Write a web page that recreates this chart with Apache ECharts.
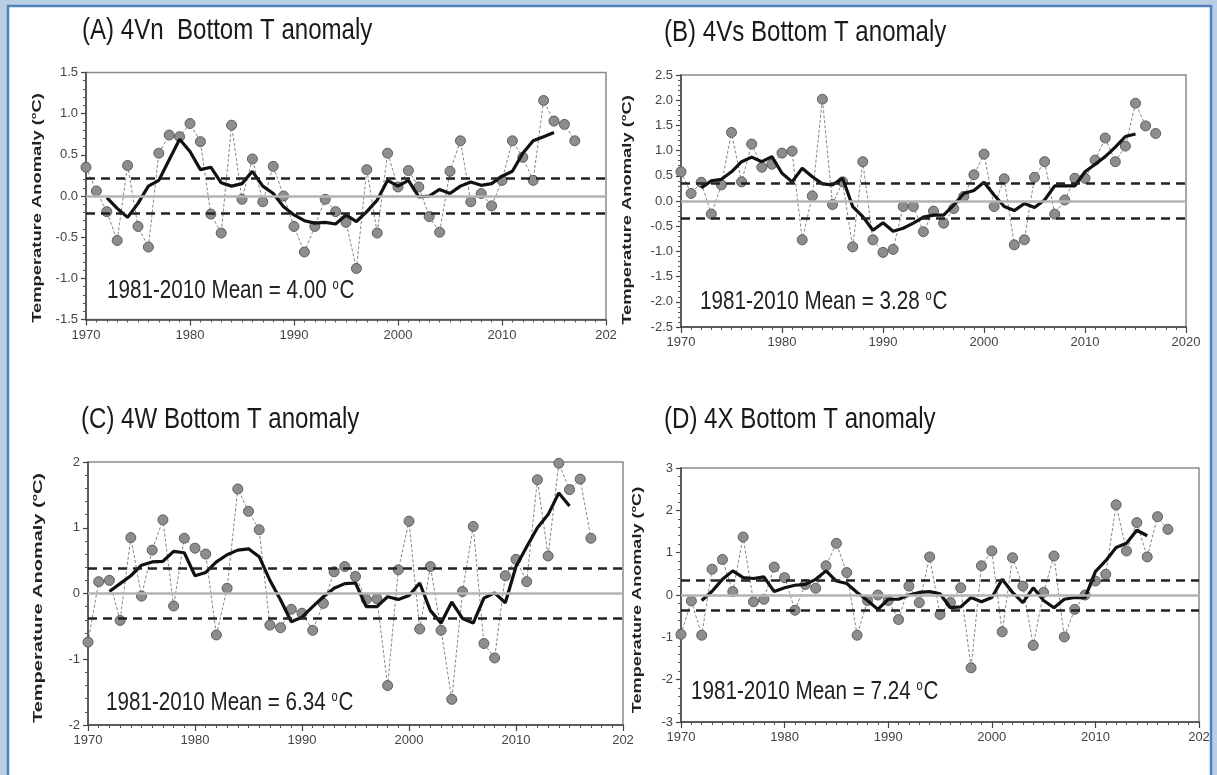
<!DOCTYPE html>
<html>
<head>
<meta charset="utf-8">
<script src="https://cdn.jsdelivr.net/npm/echarts@6/dist/echarts.min.js"></script>
<style>
html,body{margin:0;padding:0;background:#b9cde5;}
#chart{width:1217px;height:775px;}
</style>
</head>
<body>
<div id="chart"></div>
<script>
// ---- data ----
const years = [1970,1971,1972,1973,1974,1975,1976,1977,1978,1979,
  1980,1981,1982,1983,1984,1985,1986,1987,1988,1989,
  1990,1991,1992,1993,1994,1995,1996,1997,1998,1999,
  2000,2001,2002,2003,2004,2005,2006,2007,2008,2009,
  2010,2011,2012,2013,2014,2015,2016,2017];
const meanYears = [1972,1973,1974,1975,1976,1977,1978,1979,
  1980,1981,1982,1983,1984,1985,1986,1987,1988,1989,
  1990,1991,1992,1993,1994,1995,1996,1997,1998,1999,
  2000,2001,2002,2003,2004,2005,2006,2007,2008,2009,
  2010,2011,2012,2013,2014,2015];

const titles = ['(A) 4Vn  Bottom T anomaly','(B) 4Vs Bottom T anomaly','(C) 4W Bottom T anomaly','(D) 4X Bottom T anomaly'];
const meanLabels = ['4.00','3.28','6.34','7.24'];
const xTickLabels = ['1970','1980','1990','2000','2010'];
const lastXLabel = ['202','2020','202','202'];
const bands = [0.21, 0.35, 0.38, 0.36];

const annualA = [0.35,0.06,-0.19,-0.54,0.37,-0.37,-0.62,0.52,0.74,0.72,
  0.88,0.66,-0.22,-0.45,0.86,-0.04,0.45,-0.07,0.36,0.00,
  -0.37,-0.68,-0.37,-0.04,-0.19,-0.32,-0.88,0.32,-0.45,0.52,
  0.11,0.31,0.11,-0.25,-0.44,0.30,0.67,-0.07,0.03,-0.12,
  0.19,0.67,0.47,0.19,1.16,0.91,0.87,0.67];
const meanA = [-0.02,-0.15,-0.26,-0.09,0.12,0.19,0.44,0.69,
  0.54,0.32,0.35,0.16,0.12,0.15,0.30,0.12,0.03,-0.13,
  -0.23,-0.30,-0.33,-0.32,-0.34,-0.23,-0.31,-0.19,-0.05,0.19,
  0.12,0.19,-0.01,0.00,0.08,0.03,0.12,0.17,0.13,0.15,
  0.24,0.30,0.52,0.67,0.72,0.77];

const annualB = [0.58,0.15,0.37,-0.26,0.32,1.36,0.38,1.13,0.67,0.73,
  0.95,0.99,-0.77,0.10,2.02,-0.07,0.38,-0.91,0.78,-0.77,
  -1.02,-0.96,-0.11,-0.11,-0.61,-0.20,-0.44,-0.15,0.09,0.52,
  0.93,-0.11,0.44,-0.87,-0.77,0.47,0.78,-0.26,0.02,0.45,
  0.45,0.81,1.25,0.78,1.09,1.94,1.49,1.34];
const meanB = [0.26,0.40,0.43,0.58,0.78,0.87,0.78,0.88,
  0.55,0.38,0.65,0.48,0.34,0.32,0.45,-0.11,-0.31,-0.58,
  -0.43,-0.60,-0.54,-0.44,-0.32,-0.28,-0.28,-0.08,0.15,0.21,
  0.37,0.12,-0.11,-0.19,-0.05,-0.13,0.02,0.30,0.30,0.30,
  0.58,0.73,0.88,1.07,1.28,1.33];

const annualC = [-0.74,0.18,0.20,-0.41,0.85,-0.04,0.66,1.12,-0.19,0.84,
  0.69,0.60,-0.63,0.08,1.59,1.25,0.97,-0.48,-0.52,-0.24,
  -0.30,-0.56,-0.15,0.33,0.41,0.26,-0.09,-0.08,-1.40,0.36,
  1.10,-0.54,0.41,-0.56,-1.61,0.03,1.02,-0.76,-0.98,0.27,
  0.52,0.18,1.73,0.57,1.98,1.58,1.74,0.84];
const meanC = [0.03,0.15,0.27,0.43,0.48,0.49,0.64,0.62,
  0.27,0.32,0.48,0.59,0.66,0.68,0.56,0.20,-0.10,-0.43,
  -0.36,-0.20,-0.05,0.08,0.15,0.16,-0.20,-0.20,-0.05,-0.09,
  -0.03,0.16,-0.26,-0.45,-0.13,-0.38,-0.45,-0.07,0.01,-0.14,
  0.41,0.71,1.00,1.20,1.53,1.33];

const annualD = [-0.93,-0.14,-0.95,0.61,0.84,0.08,1.37,-0.16,-0.10,0.66,
  0.41,-0.36,0.25,0.16,0.69,1.22,0.53,-0.95,-0.13,0.00,
  -0.13,-0.58,0.21,-0.18,0.90,-0.46,-0.18,0.17,-1.72,0.69,
  1.04,-0.87,0.88,0.21,-1.19,0.06,0.92,-0.99,-0.34,0.00,
  0.33,0.49,2.13,1.04,1.71,0.90,1.85,1.55];
const meanD = [-0.13,0.09,0.37,0.57,0.41,0.39,0.43,0.08,
  0.17,0.23,0.25,0.37,0.57,0.33,0.27,0.06,-0.13,-0.34,
  -0.10,-0.10,0.00,0.06,0.08,0.03,-0.30,-0.28,-0.06,-0.16,
  -0.06,0.37,0.06,-0.18,0.17,-0.13,-0.30,-0.10,-0.06,-0.06,
  0.55,0.81,1.12,1.22,1.53,1.40];

const annuals = [annualA, annualB, annualC, annualD];
const means = [meanA, meanB, meanC, meanD];

// ---- layout ----
const grids = [
  {left:86, top:72.5, width:520, height:247},
  {left:681, top:75, width:505, height:252},
  {left:88, top:462, width:535, height:263},
  {left:681, top:468, width:518, height:254}
];
const yRanges = [[-1.5,1.5,0.5,1],[-2.5,2.5,0.5,1],[-2,2,1,0],[-3,3,1,0]];
const titlePos = [[82,31],[664,33],[81,420],[664,420]];
const meanPos = [[107,291],[700,302],[106,703],[691,692]];
const yNamePos = [[37,208,1.36],[627,210,1.36],[38,598,1.48],[637,600,1.34]];

const SANS = '"Liberation Sans",Arial,sans-serif';
const xLabelSets = [0,1,2,3].map(i => xTickLabels.concat([lastXLabel[i]]));

const option = {
  animation:false,
  backgroundColor:'#b9cde5',
  grid: grids.map(g => Object.assign({show:true, borderColor:'#8a8a8a', borderWidth:1.5, backgroundColor:'transparent', containLabel:false}, g)),
  xAxis: grids.map((g,i) => ({
    type:'value', gridIndex:i, min:1970, max:2020, interval:10,
    axisLine:{show:true, onZero:false, lineStyle:{color:'#444', width:1.5}},
    axisTick:{show:true, length:6, lineStyle:{color:'#444', width:1.2}},
    minorTick:{show:true, splitNumber:10, length:3, lineStyle:{color:'#555', width:1}},
    splitLine:{show:false},
    axisLabel:{color:'#444', fontFamily:SANS, fontSize:13, margin:9,
      formatter:(v)=>{const k=Math.round((v-1970)/10); return xLabelSets[i][k];}}
  })),
  yAxis: grids.map((g,i) => ({
    type:'value', gridIndex:i, min:yRanges[i][0], max:yRanges[i][1], interval:yRanges[i][2],
    axisLine:{show:true, onZero:false, lineStyle:{color:'#444', width:1.5}},
    axisTick:{show:true, length:5, lineStyle:{color:'#444', width:1.2}},
    minorTick:{show:true, splitNumber:5, length:3, lineStyle:{color:'#555', width:1}},
    splitLine:{show:false},
    axisLabel:{color:'#444', fontFamily:SANS, fontSize:13, margin:8,
      formatter:(v)=> yRanges[i][3] ? v.toFixed(1) : String(Math.round(v))}
  })),
  series: [],
  graphic: []
};

for (let i=0;i<4;i++){
  // reference lines
  option.series.push({
    type:'line', xAxisIndex:i, yAxisIndex:i, data:[[1970,0]], showSymbol:false,
    lineStyle:{opacity:0}, silent:true, z:1,
    markLine:{silent:true, symbol:['none','none'], label:{show:false}, animation:false,
      data:[
        {yAxis:0, lineStyle:{color:'#b3b3b3', width:2.5, type:'solid'}},
        {yAxis:bands[i], lineStyle:{color:'#222', width:2.5, type:[9,6]}},
        {yAxis:-bands[i], lineStyle:{color:'#222', width:2.5, type:[9,6]}}
      ]}
  });
  // annual values
  option.series.push({
    type:'line', xAxisIndex:i, yAxisIndex:i, z:3,
    data: years.map((y,k)=>[y, annuals[i][k]]),
    symbol:'circle', symbolSize:10, showAllSymbol:true,
    itemStyle:{color:'#8d8d8d', borderColor:'#5e5e5e', borderWidth:1},
    lineStyle:{color:'#666', width:0.8, type:[3,2]}
  });
  // 5-yr running mean
  option.series.push({
    type:'line', xAxisIndex:i, yAxisIndex:i, z:4,
    data: meanYears.map((y,k)=>[y, means[i][k]]),
    showSymbol:false, lineStyle:{color:'#111', width:3.2}
  });
}

// frame
option.graphic.push({type:'rect', silent:true, z:-10, shape:{x:8, y:6, width:1203, height:800},
  style:{fill:'#ffffff', stroke:'#4f81bd', lineWidth:2.5}});

for (let i=0;i<4;i++){
  option.graphic.push({type:'text', silent:true, x:titlePos[i][0], y:titlePos[i][1], z:10, scaleX:0.86, scaleY:1.05,
    style:{text:titles[i], fill:'#1a1a1a', fontFamily:SANS, fontSize:28, align:'left', verticalAlign:'middle'}});
  option.graphic.push({type:'text', silent:true, x:meanPos[i][0], y:meanPos[i][1], z:10, scaleX:0.86, scaleY:1.1,
    style:{text:'{t|1981-2010 Mean = '+meanLabels[i]+' }{s|o}{t|C}', fill:'#222', align:'left', verticalAlign:'middle',
      rich:{t:{fontFamily:SANS, fontSize:24, fill:'#222'}, s:{fontFamily:SANS, fontSize:13, fill:'#222', verticalAlign:'top', padding:[0,1,10,0]}}}});
  option.graphic.push({type:'text', silent:true, x:yNamePos[i][0], y:yNamePos[i][1], z:10,
    rotation:Math.PI/2, scaleX:yNamePos[i][2],
    style:{text:'{t|Temperature Anomaly (}{s|o}{t|C)}', align:'center', verticalAlign:'middle',
      rich:{t:{fontFamily:SANS, fontWeight:'bold', fontSize:13.5, fill:'#222'},
            s:{fontFamily:SANS, fontWeight:'bold', fontSize:8, fill:'#222', verticalAlign:'top', padding:[0,0,7,0]}}}});
}

const chart = echarts.init(document.getElementById('chart'), null, {renderer:'canvas'});
chart.setOption(option);
</script>
</body>
</html>
